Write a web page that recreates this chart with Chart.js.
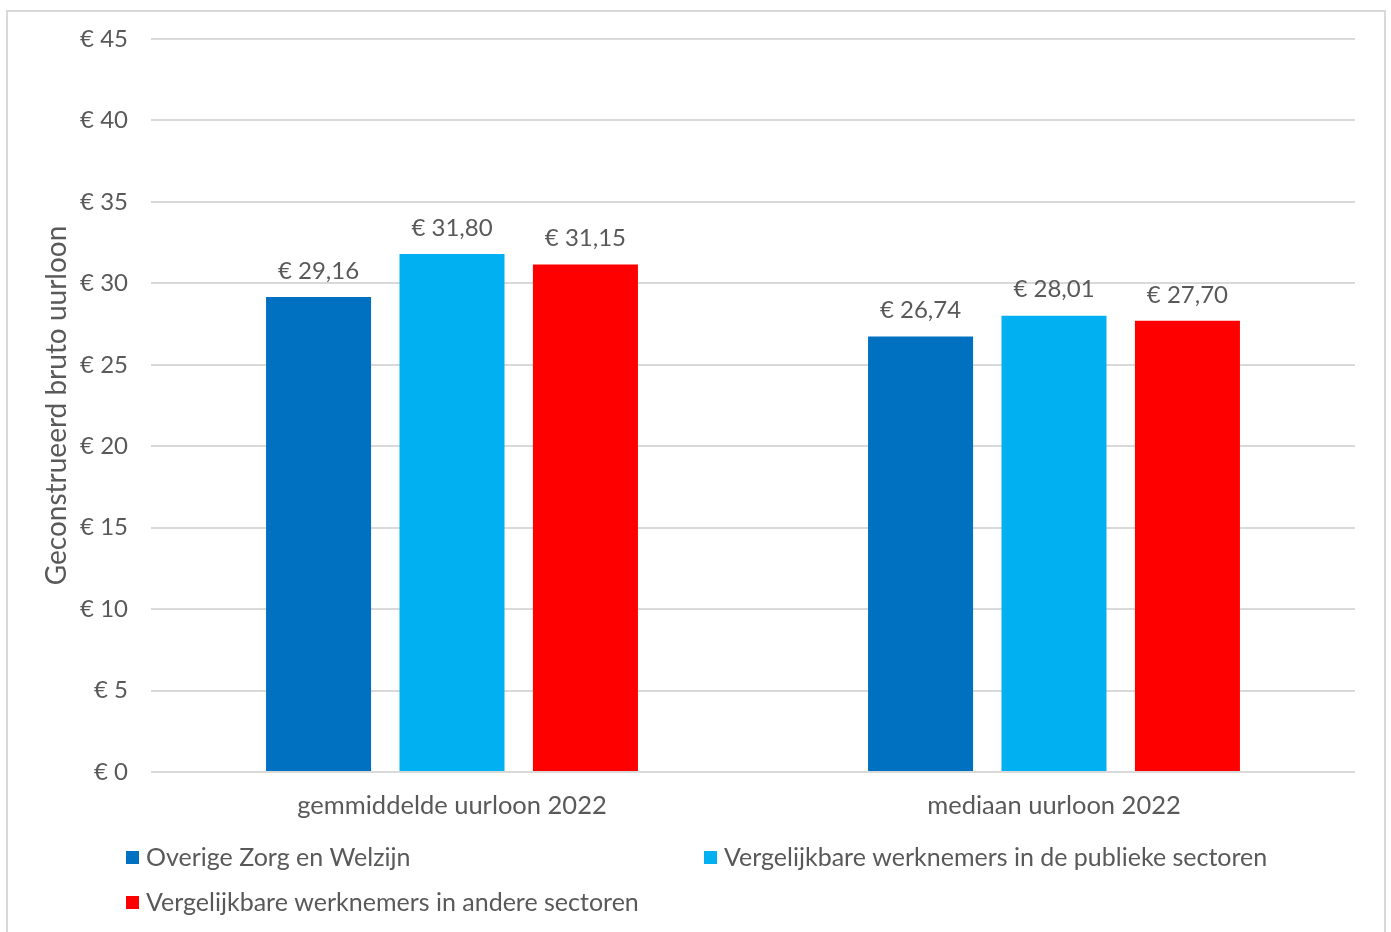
<!DOCTYPE html>
<html lang="nl">
<head>
    <meta charset="UTF-8">
    <title>Bruto uurloon 2022</title>
    <script src="https://cdn.jsdelivr.net/npm/chart.js"></script>
    <style>
        html, body { margin: 0; padding: 0; background: #ffffff; }
        #wrap { position: relative; width: 1391px; height: 932px; }
    </style>
</head>
<body>
    <div id="wrap">
        <canvas id="loonChart" width="1391" height="932"></canvas>
    </div>

    <script>
        // Categorieen en reeksen
        const categories = ['gemmiddelde uurloon 2022', 'mediaan uurloon 2022'];
        const seriesNames = [
            'Overige Zorg en Welzijn',
            'Vergelijkbare werknemers in de publieke sectoren',
            'Vergelijkbare werknemers in andere sectoren'
        ];
        const overigeZorg = [29.16, 26.74];
        const publiekeSectoren = [31.80, 28.01];
        const andereSectoren = [31.15, 27.70];
        const seriesColors = ['#0070C0', '#00B0F0', '#FF0000'];

        const textColor = '#595959';
        const fontFamily = 'Lato, "Open Sans", sans-serif';

        function euro(v, decimals) {
            return '€ ' + v.toFixed(decimals).replace('.', ',');
        }

        // Kader rond de grafiek
        const borderPlugin = {
            id: 'frame',
            beforeDraw(chart) {
                const ctx = chart.ctx;
                ctx.save();
                ctx.strokeStyle = '#d9d9d9';
                ctx.lineWidth = 2;
                ctx.strokeRect(7, 11, 1378, 1000);
                ctx.restore();
            }
        };

        // Waardelabels boven de staven
        const labelPlugin = {
            id: 'valueLabels',
            afterDatasetsDraw(chart) {
                const ctx = chart.ctx;
                ctx.save();
                ctx.font = '24px ' + fontFamily;
                ctx.fillStyle = textColor;
                ctx.textAlign = 'center';
                ctx.textBaseline = 'middle';
                chart.data.datasets.forEach((ds, i) => {
                    chart.getDatasetMeta(i).data.forEach((bar, j) => {
                        ctx.fillText(euro(ds.data[j], 2), bar.x, bar.y - 26);
                    });
                });
                ctx.restore();
            }
        };

        // Legenda in twee kolommen (zoals Excel)
        const legendPlugin = {
            id: 'gridLegend',
            afterDraw(chart) {
                const ctx = chart.ctx;
                const area = chart.chartArea;
                const colX = [area.left - 25, area.left + 553];
                const rowY = [area.bottom + 85, area.bottom + 130];
                ctx.save();
                ctx.font = '25px ' + fontFamily;
                ctx.textBaseline = 'middle';
                ctx.textAlign = 'left';
                chart.data.datasets.forEach((ds, i) => {
                    const x = colX[i % 2];
                    const y = rowY[Math.floor(i / 2)];
                    ctx.fillStyle = ds.backgroundColor;
                    ctx.fillRect(x, y - 6, 13, 13);
                    ctx.fillStyle = textColor;
                    ctx.fillText(ds.label, x + 20, y + 1);
                });
                ctx.restore();
            }
        };

        const ctx = document.getElementById('loonChart').getContext('2d');
        new Chart(ctx, {
            type: 'bar',
            data: {
                labels: categories,
                datasets: [
                    { label: seriesNames[0], data: overigeZorg, backgroundColor: seriesColors[0] },
                    { label: seriesNames[1], data: publiekeSectoren, backgroundColor: seriesColors[1] },
                    { label: seriesNames[2], data: andereSectoren, backgroundColor: seriesColors[2] }
                ]
            },
            options: {
                responsive: false,
                animation: false,
                devicePixelRatio: 1,
                datasets: {
                    bar: { categoryPercentage: 0.665, barPercentage: 0.787 }
                },
                layout: { padding: { top: 39, right: 36, bottom: 0, left: 0 } },
                plugins: {
                    legend: { display: false },
                    tooltip: { enabled: false }
                },
                scales: {
                    x: {
                        grid: { display: false, drawTicks: false },
                        border: { display: false },
                        ticks: {
                            color: textColor,
                            padding: 18,
                            font: { family: fontFamily, size: 25.5 }
                        },
                        afterFit(scale) { scale.height = 160; }
                    },
                    y: {
                        min: 0,
                        max: 45,
                        grid: { color: '#d9d9d9', lineWidth: 2, drawTicks: false },
                        border: { display: false },
                        ticks: {
                            stepSize: 5,
                            color: textColor,
                            padding: 23,
                            font: { family: fontFamily, size: 24 },
                            callback: v => euro(v, 0)
                        },
                        title: {
                            display: true,
                            text: 'Geconstrueerd bruto uurloon',
                            color: textColor,
                            padding: { top: 40, bottom: 0 },
                            font: { family: fontFamily, size: 28 }
                        },
                        afterFit(scale) { scale.width = 151; }
                    }
                }
            },
            plugins: [borderPlugin, labelPlugin, legendPlugin]
        });
    </script>
</body>
</html>
